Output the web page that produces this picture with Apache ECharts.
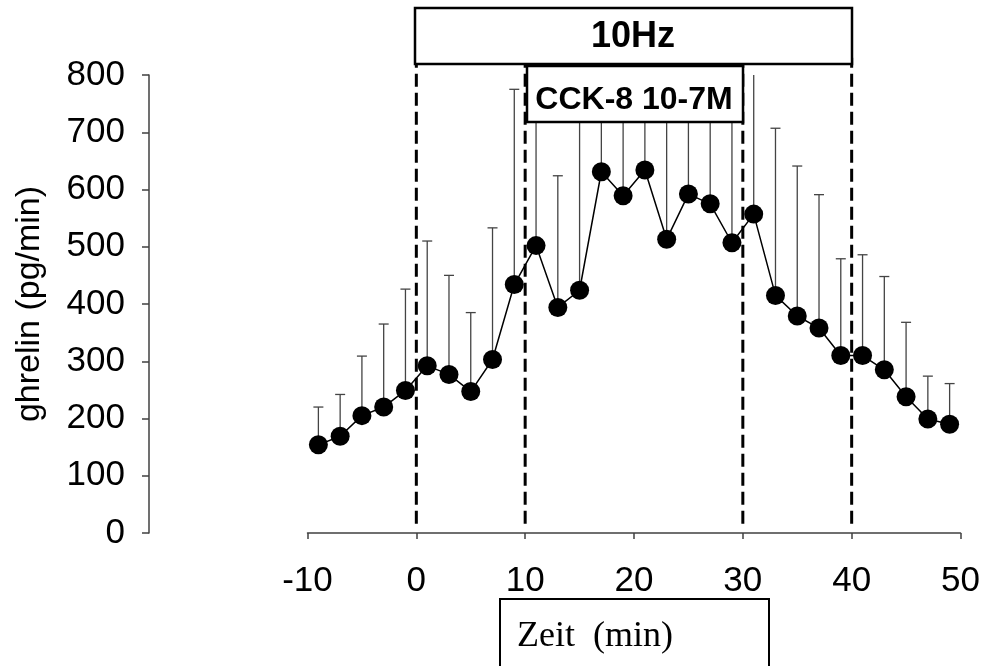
<!DOCTYPE html>
<head>
    <meta charset="utf-8"/>
    <style>
        html, body {
            height: 100%;
            margin: 0;
        }
        body {
            background-color: #fff;
        }
    </style>
    <script src="https://cdn.jsdelivr.net/npm/echarts@6/dist/echarts.min.js"></script>
</head>
<body>
<div id="main" style="width: 991px; height: 666px;"></div>
<script type="text/javascript">
 // Zeit (min)
 var times = [-9, -7, -5, -3, -1, 1, 3, 5, 7, 9, 11, 13, 15, 17, 19, 21, 23, 25, 27, 29, 31, 33, 35, 37, 39, 41, 43, 45, 47, 49];
 // ghrelin mittelwert (pg/min)
 var ghrelin = [154, 169, 205, 220, 249, 292, 277, 247, 303, 434, 502, 394, 424, 631, 589, 634, 513, 592, 575, 507, 557, 415, 379, 358, 310, 310, 285, 238, 199, 190];
 // obere fehlergrenze (mittelwert + SEM)
 var upper = [220, 242, 309, 365, 426, 510, 450, 385, 533, 775, 780, 624, 770, 870, 830, 850, 790, 860, 840, 760, 830, 707, 641, 591, 479, 486, 448, 368, 274, 261];
 // gestrichelte linien: zeit, von, bis
 var markTimes = [0, 10, 30, 40];
 var markFrom = 16;
 var markTo = 830;
 var xTicks = [-10, 0, 10, 20, 30, 40, 50];
 var yTicks = [0, 100, 200, 300, 400, 500, 600, 700, 800];

 var sans = "'Liberation Sans', Arial, sans-serif";
 var axisColor = '#404040';

 var lineData = times.map(function (t, i) { return [t, ghrelin[i]]; });
 var errData = times.map(function (t, i) { return [t, ghrelin[i], upper[i]]; });
 var dashData = markTimes.map(function (t) { return [t, markFrom, markTo]; });

 var options = {
     animation: false,
     grid: [
         {left: 149, right: 30.5, top: 75, bottom: 133},
         {left: 307.5, right: 30.5, top: 75, bottom: 133}
     ],
     xAxis: [
         {gridIndex: 0, type: 'value', min: 0, max: 1, show: false},
         {
             gridIndex: 1, type: 'value',
             min: xTicks[0], max: xTicks[xTicks.length - 1], interval: 10,
             splitLine: {show: false},
             axisLine: {onZero: false, lineStyle: {color: axisColor, width: 1.5}},
             axisTick: {length: 6, lineStyle: {color: axisColor, width: 1.5}},
             axisLabel: {color: '#000', fontSize: 35, fontFamily: sans, margin: 31}
         }
     ],
     yAxis: [
         {
             gridIndex: 0, type: 'value',
             min: yTicks[0], max: yTicks[yTicks.length - 1], interval: 100,
             name: 'ghrelin (pg/min)',
             nameLocation: 'middle',
             nameRotate: 90,
             nameGap: 102,
             nameTextStyle: {color: '#000', fontSize: 34, fontFamily: sans},
             splitLine: {show: false},
             axisLine: {show: true, lineStyle: {color: axisColor, width: 1.5}},
             axisTick: {show: true, length: 7, lineStyle: {color: axisColor, width: 1.5}},
             axisLabel: {color: '#000', fontSize: 35, fontFamily: sans, margin: 24}
         },
         {gridIndex: 1, type: 'value', min: 0, max: 800, show: false}
     ],
     graphic: [
         {
             type: 'rect', z: 100,
             shape: {x: 415, y: 8, width: 437, height: 56},
             style: {fill: '#fff', stroke: '#000', lineWidth: 2.5}
         },
         {
             type: 'text', z: 101, x: 633, y: 37,
             style: {text: '10Hz', fill: '#000', font: 'bold 36px ' + sans, align: 'center', verticalAlign: 'middle'}
         },
         {
             type: 'rect', z: 100,
             shape: {x: 527, y: 66, width: 216, height: 56},
             style: {fill: '#fff', stroke: '#000', lineWidth: 2.5}
         },
         {
             type: 'text', z: 101, x: 634, y: 100,
             style: {text: 'CCK-8 10-7M', fill: '#000', font: 'bold 32px ' + sans, align: 'center', verticalAlign: 'middle'}
         },
         {
             type: 'rect', z: 100,
             shape: {x: 500, y: 599, width: 269, height: 90},
             style: {fill: '#fff', stroke: '#000', lineWidth: 2}
         },
         {
             type: 'text', z: 101, x: 517, y: 637,
             style: {text: 'Zeit  (min)', fill: '#000', font: '36px "Liberation Serif", "Times New Roman", serif', align: 'left', verticalAlign: 'middle'}
         }
     ],
     series: [
         {
             // gestrichelte linien
             type: 'custom',
             xAxisIndex: 1, yAxisIndex: 1,
             clip: false,
             data: dashData,
             renderItem: function (params, api) {
                 var p1 = api.coord([api.value(0), api.value(1)]);
                 var p2 = api.coord([api.value(0), api.value(2)]);
                 return {
                     type: 'line',
                     shape: {x1: p1[0], y1: p1[1], x2: p2[0], y2: p2[1]},
                     style: {stroke: '#000', lineWidth: 3, lineDash: [13, 6]}
                 };
             },
             z: 1
         },
         {
             // fehlerbalken, nur nach oben
             type: 'custom',
             xAxisIndex: 1, yAxisIndex: 1,
             data: errData,
             renderItem: function (params, api) {
                 var base = api.coord([api.value(0), api.value(1)]);
                 var top = api.coord([api.value(0), api.value(2)]);
                 var cs = params.coordSys;
                 var children = [];
                 var clipped = top[1] < cs.y;
                 var ty = clipped ? cs.y : top[1];
                 children.push({
                     type: 'line',
                     shape: {x1: base[0], y1: base[1], x2: base[0], y2: ty},
                     style: {stroke: '#444', lineWidth: 1.3}
                 });
                 if (!clipped) {
                     children.push({
                         type: 'line',
                         shape: {x1: base[0] - 5, y1: ty, x2: base[0] + 5, y2: ty},
                         style: {stroke: '#444', lineWidth: 1.3}
                     });
                 }
                 return {type: 'group', children: children};
             },
             z: 2
         },
         {
             type: 'line',
             xAxisIndex: 1, yAxisIndex: 1,
             data: lineData,
             symbol: 'circle',
             symbolSize: 19,
             itemStyle: {color: '#000'},
             lineStyle: {color: '#000', width: 1.5},
             z: 3
         }
     ]
 };

 var myChart = echarts.init(document.getElementById('main'));
 myChart.setOption(options);
</script>
</body>
